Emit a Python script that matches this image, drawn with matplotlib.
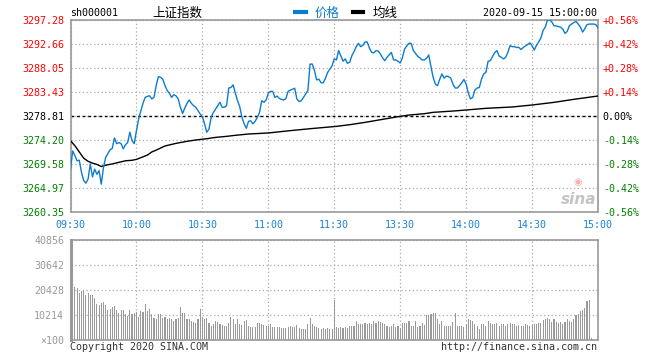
import numpy as np
import matplotlib
matplotlib.use("Agg")
import matplotlib.pyplot as plt
from matplotlib.lines import Line2D

# ---------------- data ----------------
time_labels = ["09:30", "10:00", "10:30", "11:00", "11:30", "13:30", "14:00", "14:30", "15:00"]
prev_close = 3278.81
price_ticks = [3260.35, 3264.97, 3269.58, 3274.20, 3278.81, 3283.43, 3288.05, 3292.66, 3297.28]
price_tick_labels = ["3260.35", "3264.97", "3269.58", "3274.20", "3278.81", "3283.43", "3288.05", "3292.66", "3297.28"]
pct_labels = ["-0.56%", "-0.42%", "-0.28%", "-0.14%", "0.00%", "+0.14%", "+0.28%", "+0.42%", "+0.56%"]
vol_ticks = [0, 10214, 20428, 30642, 40856]
vol_tick_labels = ["\u00d7100", "10214", "20428", "30642", "40856"]

price = [
    3268.6, 3272.1, 3271.2, 3270.2, 3270.3, 3268.0, 3266.4, 3265.9, 3266.7, 3269.6,
    3267.1, 3268.6, 3267.6, 3268.3, 3265.7, 3268.9, 3270.85, 3271.6, 3272.3, 3272.6,
    3274.6, 3273.5, 3273.7, 3273.5, 3272.5, 3273.3, 3273.7, 3275.7, 3274.1, 3273.5,
    3276.0, 3278.2, 3279.8, 3281.3, 3282.4, 3282.6, 3282.7, 3282.1, 3282.4, 3284.7,
    3286.4, 3286.25, 3285.9, 3284.65, 3283.7, 3283.2, 3282.4, 3282.9, 3282.7, 3282.1,
    3280.5, 3279.3, 3280.35, 3281.25, 3281.9, 3281.25, 3280.8, 3280.5, 3279.85, 3279.2,
    3278.7, 3277.3, 3275.7, 3276.3, 3278.55, 3279.5, 3280.15, 3280.8, 3281.45, 3280.5,
    3280.5, 3280.8, 3284.2, 3284.3, 3284.8, 3283.2, 3281.75, 3280.6, 3278.55, 3277.3,
    3276.45, 3277.8, 3277.9, 3277.3, 3277.8, 3278.55, 3279.5, 3281.75, 3281.45, 3281.9,
    3283.2, 3283.55, 3283.55, 3282.4, 3282.65, 3282.2, 3282.0, 3281.9, 3282.15, 3283.55,
    3283.8, 3283.95, 3284.15, 3282.1, 3281.6, 3281.75, 3282.4, 3283.05, 3283.7, 3288.8,
    3288.8, 3287.55, 3285.75, 3285.9, 3285.2, 3285.2, 3286.1, 3287.2, 3287.85, 3288.45,
    3289.8, 3289.6, 3291.4, 3290.4, 3289.35, 3289.8, 3288.95, 3289.15, 3290.4, 3291.2,
    3292.15, 3292.8, 3292.15, 3292.4, 3293.05, 3293.05, 3291.9, 3291.05, 3290.95, 3291.4,
    3291.3, 3290.75, 3290.0, 3289.45, 3290.1, 3290.6, 3291.05, 3289.6, 3289.6, 3289.35,
    3289.0, 3290.0, 3291.7, 3292.3, 3292.8, 3292.8, 3291.4, 3290.85, 3290.25, 3290.0,
    3289.6, 3289.6, 3289.9, 3290.55, 3288.3, 3286.25, 3284.95, 3284.65, 3285.9, 3286.9,
    3286.1, 3286.5, 3286.4, 3286.1, 3284.95, 3284.2, 3284.2, 3284.65, 3285.2, 3285.85,
    3284.95, 3283.2, 3282.1, 3282.4, 3283.8, 3284.2, 3284.3, 3285.9, 3286.9, 3287.2,
    3289.35, 3289.45, 3290.25, 3291.0, 3291.4, 3290.35, 3290.1, 3289.8, 3290.1, 3291.05,
    3292.35, 3292.15, 3292.15, 3292.0, 3292.0, 3291.6, 3292.0, 3292.3, 3292.55, 3292.9,
    3292.3, 3291.5, 3292.4, 3293.05, 3293.8, 3295.25, 3295.9, 3297.3, 3297.3, 3296.9,
    3296.15, 3296.15, 3296.0, 3295.9, 3295.5, 3294.7, 3295.1, 3296.2, 3296.5, 3296.8,
    3297.0, 3296.5, 3295.9, 3294.95, 3295.6, 3296.4, 3296.5, 3296.5, 3296.5, 3296.4,
    3295.8,
]

avg_minutes = [0, 2, 4, 6, 8, 10, 12, 14, 16, 19, 22, 25, 28, 30, 32, 35, 37, 39, 43, 48,
               53, 57, 62, 66, 71, 75, 81, 90, 100, 109, 121, 127, 134, 142, 149, 154, 161,
               165, 174, 180, 189, 201, 210, 220, 229, 240]
avg_price = [3274.06, 3273.1, 3271.9, 3270.7, 3270.1, 3269.75, 3269.5, 3269.1, 3269.35, 3269.6,
             3269.9, 3270.2, 3270.3, 3270.47, 3270.8, 3271.3, 3271.9, 3272.25, 3273.05, 3273.55,
             3273.95, 3274.2, 3274.45, 3274.7, 3274.9, 3275.1, 3275.35, 3275.55, 3276.0, 3276.37,
             3276.82, 3277.14, 3277.59, 3278.17, 3278.68, 3279.0, 3279.26, 3279.52, 3279.77,
             3279.97, 3280.29, 3280.55, 3280.93, 3281.44, 3282.02, 3282.66]

volume = [
    40856, 25150, 21730, 21190, 19000, 19820, 19820, 18320, 19000, 18320,
    18450, 17360, 14900, 14350, 15170, 15720, 14350, 12440, 12580, 13530,
    13800, 12170, 11210, 12170, 12170, 10530, 9840, 12170, 10800, 11210,
    11620, 9430, 11890, 11620, 14630, 11890, 12580, 10800, 9160, 8480,
    10800, 10530, 9160, 9430, 8750, 9160, 8480, 7790, 8480, 9160,
    13670, 11210, 10940, 8480, 8480, 7790, 7380, 6840, 8480, 12850,
    9160, 8480, 9160, 7110, 5740, 6420, 7790, 7380, 6420, 6150,
    5740, 5740, 7110, 9430, 8750, 6700, 8480, 6700, 6150, 7790,
    8070, 5740, 5330, 5330, 5330, 7100, 6830, 6700, 6150, 5740,
    5740, 6420, 5330, 5330, 5330, 5330, 4780, 5060, 4780, 5330,
    5740, 5330, 5330, 6150, 5060, 4370, 4370, 4370, 6700, 9160,
    6700, 5740, 5330, 4780, 4370, 5060, 4370, 4780, 4370, 4370,
    16400, 5330, 5060, 5330, 5060, 5330, 5060, 5740, 5740, 5740,
    7790, 6700, 6700, 6700, 7110, 6700, 7110, 6700, 7790, 7110,
    7790, 7520, 7110, 6420, 5740, 5330, 5740, 6420, 5330, 5740,
    5060, 6840, 7110, 7110, 7790, 5740, 5740, 7790, 5330, 5740,
    7110, 6150, 10120, 10120, 10530, 10940, 11210, 8480, 6700, 7790,
    5740, 5740, 5740, 5740, 7520, 11210, 5740, 5740, 5740, 5330,
    6700, 8480, 8200, 7790, 6700, 5740, 4650, 6700, 6700, 5740,
    7790, 7110, 6700, 6700, 7110, 5740, 6420, 6700, 5740, 6420,
    7110, 6700, 6700, 5740, 6150, 5740, 5740, 6420, 6150, 5740,
    6150, 6700, 6700, 7110, 7110, 8070, 8480, 9160, 8480, 7380,
    8480, 7520, 7110, 7520, 6700, 7520, 8480, 7790, 7520, 8480,
    10250, 10800, 11890, 12300, 12990, 15990, 16270, 960, 0, 0,
    0,
]

# ---------------- style ----------------
BLUE = "#0c7cd0"
TICKBLUE = "#1b82d3"
RED = "#ff0000"
GREEN = "#008000"
GRID = "#aaaaaa"
BORDER = "#999999"
MONO = "DejaVu Sans Mono"
CJK = ["Noto Sans CJK SC", "DejaVu Sans"]
FS = 7.2

fig = plt.figure(figsize=(6.6, 3.6), dpi=100)
fig.patch.set_facecolor("white")

W, H = 660.0, 360.0
x0, x1 = 70.5, 598.0
ax = fig.add_axes([x0 / W, 1 - 212 / H, (x1 - x0) / W, (212 - 20) / H])
axv = fig.add_axes([x0 / W, 1 - 340 / H, (x1 - x0) / W, (340 - 240) / H])

n = len(price)
minutes = np.arange(n)
xt = [i * 30 for i in range(len(time_labels))]

# ---------------- price panel ----------------
ax.set_xlim(0, n - 1)
ax.set_ylim(price_ticks[0], price_ticks[-1])
ax.set_xticks(xt)
ax.set_xticklabels(time_labels, fontfamily=MONO, fontsize=FS, color=TICKBLUE)
ax.set_yticks(price_ticks)
ax.set_yticklabels(price_tick_labels, fontfamily=MONO, fontsize=FS)
for lab, v in zip(ax.get_yticklabels(), price_ticks):
    lab.set_color(RED if v > prev_close else (GREEN if v < prev_close else "black"))
ax.tick_params(axis="both", length=0)
ax.tick_params(axis="x", pad=6)
ax.tick_params(axis="y", pad=4.5)
ax.grid(True, color=GRID, linestyle=(0, (1, 2)), linewidth=0.9)
ax.set_axisbelow(True)
ax.axhline(prev_close, color="black", linestyle=(0, (2, 2)), linewidth=1.0, zorder=2)
ax.plot(minutes, price, color=BLUE, linewidth=1.0, zorder=4)
ax.plot(avg_minutes, avg_price, color="black", linewidth=1.0, zorder=3)
for s in ax.spines.values():
    s.set_color(BORDER)
    s.set_linewidth(1.2)

ax2 = ax.twinx()
ax2.set_ylim(ax.get_ylim())
ax2.set_yticks(price_ticks)
ax2.set_yticklabels(pct_labels, fontfamily=MONO, fontsize=FS)
for lab, v in zip(ax2.get_yticklabels(), price_ticks):
    lab.set_color(RED if v > prev_close else (GREEN if v < prev_close else "black"))
ax2.tick_params(axis="y", length=0, pad=3.5)
for s in ax2.spines.values():
    s.set_visible(False)

# sina watermark
ax.text(0.997, 0.025, "sina", transform=ax.transAxes, ha="right", va="bottom",
        fontsize=11, fontstyle="italic", fontweight="bold", color="#c4c4c4",
        fontfamily="DejaVu Sans", zorder=1)
ax.text(0.962, 0.155, "\u25c9", transform=ax.transAxes, ha="center", va="center",
        fontsize=7, color="#f5b0b0", fontfamily="DejaVu Sans", zorder=1)

# ---------------- volume panel ----------------
axv.bar(minutes, volume, width=0.5, color="#9a9a9a", linewidth=0, zorder=3)
axv.set_xlim(0, n - 1)
axv.set_ylim(vol_ticks[0], vol_ticks[-1])
axv.set_xticks(xt)
axv.set_xticklabels([])
axv.set_yticks(vol_ticks)
axv.set_yticklabels(vol_tick_labels, fontfamily=MONO, fontsize=FS, color="#999999")
axv.tick_params(axis="both", length=0)
axv.tick_params(axis="y", pad=4.5)
axv.grid(True, color=GRID, linestyle=(0, (1, 2)), linewidth=0.9)
axv.set_axisbelow(True)
for s in axv.spines.values():
    s.set_color(BORDER)
    s.set_linewidth(1.2)
axv.spines["left"].set_linewidth(2.2)

# ---------------- texts ----------------
fig.text(70 / W, 1 - 13 / H, "sh000001", fontfamily=MONO, fontsize=FS, color="black",
         ha="left", va="center")
fig.text(152 / W, 1 - 13 / H, "上证指数", fontfamily=CJK, fontsize=9, color="black",
         ha="left", va="center")
fig.text(597 / W, 1 - 13 / H, "2020-09-15 15:00:00", fontfamily=MONO, fontsize=FS,
         color="black", ha="right", va="center")
fig.text(70 / W, 1 - 346.5 / H, "Copyright 2020 SINA.COM", fontfamily=MONO, fontsize=FS,
         color="#333333", ha="left", va="center")
fig.text(597 / W, 1 - 346.5 / H, "http://finance.sina.com.cn", fontfamily=MONO, fontsize=FS,
         color="#333333", ha="right", va="center")

handles = [Line2D([], [], color=BLUE, linewidth=3), Line2D([], [], color="black", linewidth=3)]
leg = fig.legend(handles, ["价格", "均线"], loc="center left",
                 bbox_to_anchor=(295 / W, 1 - 13 / H), ncol=2, frameon=False,
                 prop={"family": CJK, "size": 9}, handlelength=0.85, handletextpad=0.75,
                 columnspacing=1.0, borderpad=0, borderaxespad=0)
leg.get_texts()[0].set_color(BLUE)
leg.get_texts()[1].set_color("black")

fig.savefig("out.png", dpi=100, facecolor="white")
